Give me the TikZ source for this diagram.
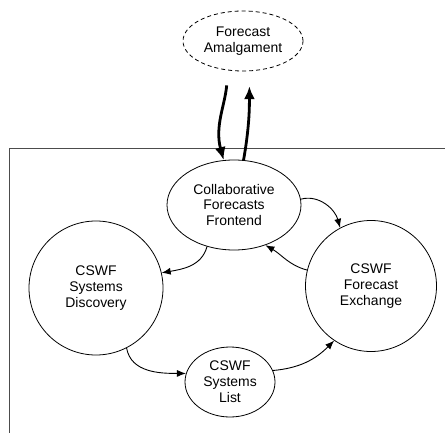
\documentclass[tikz,border=0pt]{standalone}
\usepackage{fontspec}
\setmainfont{Liberation Sans}
\usetikzlibrary{shapes.geometric,arrows.meta}
\begin{document}
\begin{tikzpicture}[x=1bp,y=-1bp,
    every node/.style={font=\fontsize{14}{16}\selectfont, align=center, inner sep=0pt},
    process/.style={draw, ellipse, line width=0.8bp},
    flow/.style={-{Latex[length=9bp,width=7bp]}, line width=0.9bp},
    bigflow/.style={-{Latex[length=13bp,width=11bp]}, line width=2.8bp}]
    \useasboundingbox (0,0) rectangle (445,433);
    \draw[line width=0.9bp, black!70] (445,148) -- (9,148) -- (9,433); % system boundary
    \node[process, dash pattern=on 4bp off 3bp, minimum width=120bp, minimum height=60bp] (amalg) at (243,41) {Forecast\\Amalgament};
    \node[process, minimum width=134bp, minimum height=90bp] (front) at (234,205) {Collaborative\\Forecasts\\Frontend};
    \node[process, circle, minimum size=134bp] (disc) at (96,288) {CSWF\\Systems\\Discovery};
    \node[process, circle, minimum size=131bp] (exch) at (371,286) {CSWF\\Forecast\\Exchange};
    \node[process, minimum width=90bp, minimum height=70bp] (list) at (230,382) {CSWF\\Systems\\List};
    % external flows
    \draw[bigflow, shorten <=15bp] (amalg.-117) to[out=-95, in=105] (front.103);
    \draw[bigflow, shorten >=15bp] (front.78) to[out=80, in=-90] (amalg.-78);
    % internal flows
    \draw[flow] (front.5) to[out=15, in=105] (exch.118);
    \draw[flow] (exch.166) to[out=165, in=-30] (front.-52);
    \draw[flow] (front.-123) to[out=-105, in=10] (disc.13);
    \draw[flow] (disc.-63) to[out=-80, in=180] (list.169);
    \draw[flow] (list.15) to[out=5, in=-135] (exch.-124);
\end{tikzpicture}
\end{document}
